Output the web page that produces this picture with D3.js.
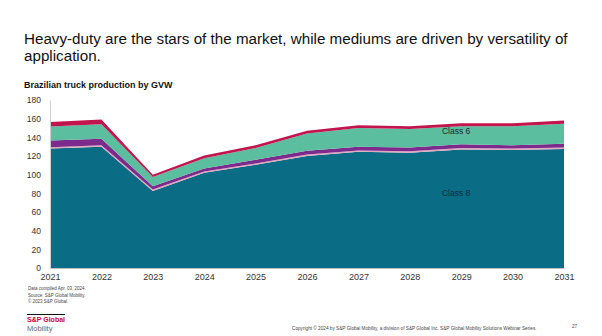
<!DOCTYPE html>
<html>
<head>
<meta charset="utf-8">
<script src="https://cdn.jsdelivr.net/npm/d3@7"></script>
<style>
  body { margin: 0; background: #fff; }
  svg { font-family: "Liberation Sans", Arial, sans-serif; }
</style>
</head>
<body>
<svg id="chart" width="602" height="336"></svg>
<script>
// Brazilian truck production by GVW (thousand units)
const years = [2021, 2022, 2023, 2024, 2025, 2026, 2027, 2028, 2029, 2030, 2031];
const class8 = [128, 130, 82.5, 102, 110.5, 120, 124.5, 123.5, 127, 126.5, 127.5];
const class7 = [1.5, 1.5, 1.5, 1.5, 1.5, 1.5, 1.5, 1.5, 1.5, 1.5, 1.5];
const class7b = [7, 7, 3.5, 3, 4, 4, 4, 4, 4, 3.5, 4];
const class6 = [15, 15.5, 10, 11, 12.5, 18.5, 20, 20, 19.5, 20.5, 21.5];
const class45 = [5, 5, 2.5, 3, 3, 3, 3, 3, 3, 3, 3.5];
const yTicks = [0, 20, 40, 60, 80, 100, 120, 140, 160, 180];

const seriesKeys = ["c8", "c7", "c7b", "c6", "c45"];
const colors = { c8: "#0b6c86", c7: "#e3a6bd", c7b: "#7c2a8c", c6: "#5bbf9f", c45: "#c2154e" };

const rows = years.map((y, i) => ({
    year: y, c8: class8[i], c7: class7[i], c7b: class7b[i], c6: class6[i], c45: class45[i]
}));

const svg = d3.select("#chart");
const margin = { left: 50, right: 38, top: 100, bottom: 68 };
const width = 602, height = 336;

const x = d3.scaleLinear().domain([2021, 2031]).range([margin.left, width - margin.right]);
const y = d3.scaleLinear().domain([0, 180]).range([height - margin.bottom, margin.top]);

// titles
svg.append("text")
    .attr("x", 24).attr("y", 44)
    .attr("font-size", "15.2px").attr("fill", "#111")
    .text("Heavy-duty are the stars of the market, while mediums are driven by versatility of");
svg.append("text")
    .attr("x", 24).attr("y", 61)
    .attr("font-size", "15.2px").attr("fill", "#111")
    .text("application.");
svg.append("text")
    .attr("x", 24).attr("y", 88)
    .attr("font-size", "9px").attr("font-weight", "bold").attr("fill", "#111")
    .text("Brazilian truck production by GVW");

// stacked areas
const stack = d3.stack().keys(seriesKeys);
const layers = stack(rows);

const area = d3.area()
    .x(d => x(d.data.year))
    .y0(d => y(d[0]))
    .y1(d => y(d[1]));

svg.append("g").selectAll("path")
    .data(layers)
    .join("path")
    .attr("fill", d => colors[d.key])
    .attr("d", area);

// axes
const yAxis = d3.axisLeft(y).tickValues(yTicks).tickSize(0).tickPadding(9);
const gy = svg.append("g")
    .attr("transform", `translate(${margin.left},0)`)
    .call(yAxis);
gy.select(".domain").attr("stroke", "#cfcfcf");
gy.selectAll("text").attr("font-size", "8.5px").attr("fill", "#333")
    .attr("font-family", "Liberation Sans, Arial, sans-serif");

const xAxis = d3.axisBottom(x).tickValues(years).tickFormat(d3.format("d")).tickSize(0).tickPadding(6);
const gx = svg.append("g")
    .attr("transform", `translate(0,${height - margin.bottom})`)
    .call(xAxis);
gx.select(".domain").attr("stroke", "#bfbfbf");
gx.selectAll("text").attr("font-size", "9px").attr("fill", "#333")
    .attr("font-family", "Liberation Sans, Arial, sans-serif");

// in-chart labels
svg.append("text")
    .attr("x", x(2028.9)).attr("y", y(144))
    .attr("text-anchor", "middle").attr("font-size", "8.5px").attr("fill", "#1a2b33")
    .text("Class 6");
svg.append("text")
    .attr("x", x(2028.9)).attr("y", y(77))
    .attr("text-anchor", "middle").attr("font-size", "8.5px").attr("fill", "#0d2f3a")
    .text("Class 8");

// footnotes
const notes = ["Data compiled Apr. 03, 2024.", "Source: S&P Global Mobility.", "\u00a9 2023 S&P Global."];
svg.append("g").selectAll("text")
    .data(notes)
    .join("text")
    .attr("x", 28).attr("y", (d, i) => 290 + i * 6.5)
    .attr("font-size", "4.5px").attr("fill", "#444")
    .text(d => d);

// logo
svg.append("line")
    .attr("x1", 27).attr("x2", 65).attr("y1", 314.5).attr("y2", 314.5)
    .attr("stroke", "#111").attr("stroke-width", 1);
svg.append("text")
    .attr("x", 27).attr("y", 322)
    .attr("font-size", "7px").attr("font-weight", "bold").attr("fill", "#d6002a")
    .text("S&P Global");
svg.append("text")
    .attr("x", 27).attr("y", 331)
    .attr("font-size", "7.5px").attr("fill", "#666")
    .text("Mobility");

svg.append("text")
    .attr("x", 292).attr("y", 330)
    .attr("font-size", "4.7px").attr("fill", "#444")
    .text("Copyright \u00a9 2024 by S&P Global Mobility, a division of S&P Global Inc.  S&P Global Mobility Solutions Webinar Series.");
svg.append("text")
    .attr("x", 572).attr("y", 328)
    .attr("font-size", "4.5px").attr("fill", "#444")
    .text("27");
</script>
</body>
</html>
